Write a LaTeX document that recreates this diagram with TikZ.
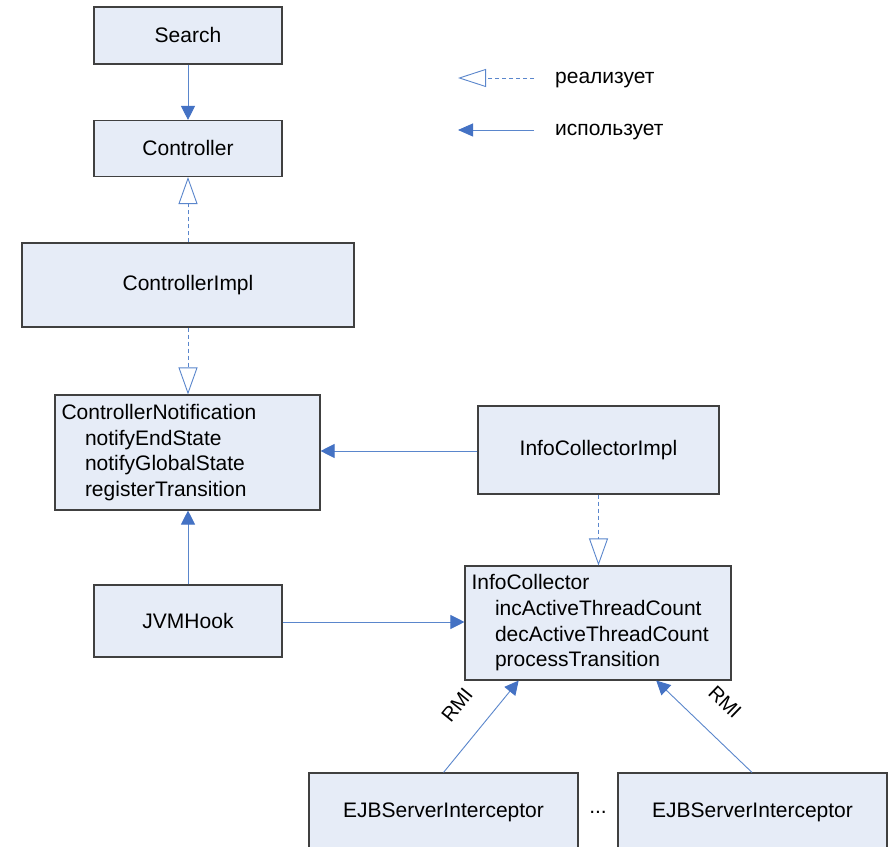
\documentclass[tikz,border=0pt]{standalone}
\usepackage{fontspec}
\setmainfont{Liberation Sans}
\usetikzlibrary{arrows.meta,calc}
\definecolor{boxfill}{HTML}{E6ECF7}
\definecolor{boxline}{HTML}{404040}
\definecolor{conn}{HTML}{5A86CC}
\definecolor{tipc}{HTML}{4472C4}
\tikzset{
  umlbox/.style={draw=boxline, line width=1.1pt, fill=boxfill, inner sep=0pt,
    font=\fontsize{21}{25.7}\selectfont},
  listbox/.style={umlbox, align=left, inner xsep=6.5pt},
  uses/.style={draw=conn, line width=0.9pt,
    -{Triangle[length=14pt,width=14pt,fill=tipc,color=tipc]}},
  realizes/.style={draw=conn, line width=0.9pt, dash pattern=on 4pt off 3pt,
    -{Triangle[open,length=27pt,width=19pt,color=conn]}},
  lbl/.style={inner sep=0pt, font=\fontsize{21}{25.7}\selectfont},
}
\begin{document}
\begin{tikzpicture}[x=1pt,y=1pt]
\useasboundingbox (0,0) rectangle (890,846);
\clip (0,0) rectangle (890,846);
\fill[white] (0,0) rectangle (890,846);

% boxes
\node[umlbox, minimum width=188pt, minimum height=57pt] (search) at (188,810.5) {Search};
\node[umlbox, minimum width=188pt, minimum height=56pt] (ctrl) at (188,697.5) {Controller};
\node[umlbox, minimum width=332pt, minimum height=84pt] (ctrlimpl) at (188,561) {ControllerImpl};
\node[listbox, text width=252pt, minimum height=115pt] (cn) at (187.5,393.5)
  {ControllerNotification\\\hspace*{23.5pt}notifyEndState\\\hspace*{23.5pt}notifyGlobalState\\\hspace*{23.5pt}registerTransition};
\node[umlbox, minimum width=241pt, minimum height=88pt] (icimpl) at (598.5,396) {InfoCollectorImpl};
\node[umlbox, minimum width=188pt, minimum height=72pt] (jvm) at (188,225) {JVMHook};
\node[listbox, text width=253pt, minimum height=114pt] (ic) at (598,223)
  {InfoCollector\\\hspace*{23.5pt}incActiveThreadCount\\\hspace*{23.5pt}decActiveThreadCount\\\hspace*{23.5pt}processTransition};
\node[umlbox, minimum width=269pt, minimum height=78pt] (ejbl) at (443.5,34) {EJBServerInterceptor};
\node[umlbox, minimum width=269pt, minimum height=78pt] (ejbr) at (752.5,34) {EJBServerInterceptor};
\node[lbl] (dots) at (598,34) {...};

% connectors
\draw[uses] (search.south) -- (ctrl.north);
\draw[realizes] (ctrlimpl.north) -- (ctrl.south);
\draw[realizes] (ctrlimpl.south) -- (ctrlimpl.south |- cn.north);
\draw[uses] ($(icimpl.west)+(0,-1)$) -- ($(icimpl.west -| cn.east)+(0,-1)$);
\draw[uses] (jvm.north) -- (jvm.north |- cn.south);
\draw[uses] ($(jvm.east)+(0,-1)$) -- ($(jvm.east -| ic.west)+(0,-1)$);
\draw[realizes] (icimpl.south) -- (icimpl.south |- ic.north);
\coordinate (icl) at ($(ic.south west)!0.203!(ic.south east)$);
\coordinate (icr) at ($(ic.south west)!0.718!(ic.south east)$);
\draw[uses] (ejbl.north) -- (icl);
\draw[uses] ($(ejbr.north)+(-0.5,0)$) -- (icr);
\node[lbl, font=\fontsize{20}{24}\selectfont, rotate=51] (rmil) at (457,141) {RMI};
\node[lbl, font=\fontsize{20}{24}\selectfont, rotate=-44] (rmir) at (725,144) {RMI};

% legend
\coordinate (r1) at (534,768);
\coordinate (r2) at (458,768);
\draw[realizes, -{Triangle[open,length=28pt,width=18pt,color=conn]}] (r1) -- (r2);
\node[lbl, anchor=base west] (rtext) at (555,762.5) {реализует};
\coordinate (u1) at (534,716);
\coordinate (u2) at (458,716);
\draw[uses, -{Triangle[length=15pt,width=13pt,fill=tipc,color=tipc]}] (u1) -- (u2);
\node[lbl, anchor=base west] (utext) at (555,710.5) {использует};
\end{tikzpicture}
\end{document}
